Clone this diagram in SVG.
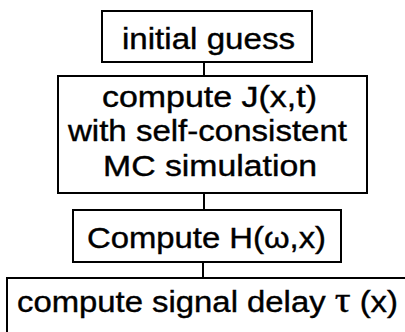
<svg xmlns="http://www.w3.org/2000/svg" width="405" height="332" viewBox="0 0 405 332">
<style>
.box{fill:#fff;stroke:#000;stroke-width:2}
.lbl{font-family:"Liberation Sans",Arial,sans-serif;font-size:30px;fill:#000;stroke:#000;stroke-width:0.4}
.conn{stroke:#000;stroke-width:2;fill:none}
.sym{font-family:"Liberation Serif","Times New Roman",serif;font-size:36px}
</style>
<rect width="405" height="332" fill="#fff"/>
<g id="connectors">
<line class="conn" x1="204" y1="62" x2="204" y2="76"/>
<line class="conn" x1="204" y1="193" x2="204" y2="210"/>
<line class="conn" x1="203" y1="262" x2="203" y2="278"/>
</g>
<g id="node-initial">
<rect class="box" x="102" y="11" width="210" height="51"/>
<text class="lbl" x="122" y="49" textLength="173" lengthAdjust="spacingAndGlyphs">initial guess</text>
</g>
<g id="node-computeJ">
<rect class="box" x="58" y="76" width="309" height="117"/>
<text class="lbl" x="102" y="107" textLength="215" lengthAdjust="spacingAndGlyphs">compute J(x,t)</text>
<text class="lbl" x="68" y="141" textLength="279" lengthAdjust="spacingAndGlyphs">with self-consistent</text>
<text class="lbl" x="103" y="176" textLength="214" lengthAdjust="spacingAndGlyphs">MC simulation</text>
</g>
<g id="node-computeH">
<rect class="box" x="73" y="210" width="268" height="52"/>
<text class="lbl" x="87" y="248" textLength="239" lengthAdjust="spacingAndGlyphs">Compute H(ω,x)</text>
</g>
<g id="node-delay">
<rect class="box" x="7" y="278" width="410" height="70"/>
<text class="lbl" x="17" y="312" textLength="381" lengthAdjust="spacingAndGlyphs">compute signal delay <tspan class="sym">τ</tspan> (x)</text>
</g>
</svg>
